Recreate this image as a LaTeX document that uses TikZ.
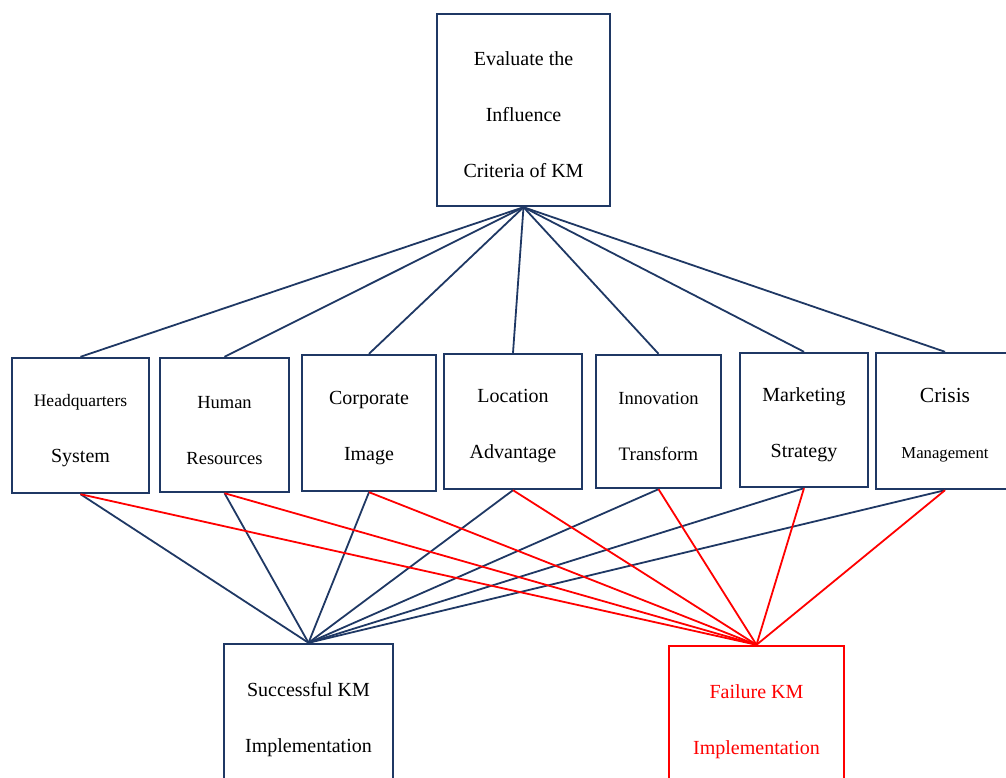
\documentclass[tikz,border=0pt]{standalone}
\usepackage{fontspec}
\setmainfont{Liberation Serif}
\usepackage{xcolor}
\usetikzlibrary{positioning}
\definecolor{kmblue}{RGB}{31,56,100}
\definecolor{kmred}{RGB}{255,0,0}
\newcommand{\kmstrut}{\rule{0pt}{23pt}}

\begin{document}
\begin{tikzpicture}[
    x=1pt, y=-1pt,
    every node/.style={font=\fontsize{20}{56}\selectfont},
    goal/.style={rectangle, minimum width=173pt, minimum height=192pt, inner sep=0pt,
                 align=center, draw=kmblue, line width=2.4pt},
    criterion/.style={rectangle, minimum height=135pt, inner sep=0pt,
                      align=center, draw=kmblue, line width=2.4pt},
    outcome/.style={rectangle, minimum height=142pt, inner sep=0pt,
                    align=center, draw=kmblue, line width=2.4pt},
    link/.style={kmblue, line width=1.8pt},
    faillink/.style={kmred, line width=1.8pt}
]
\useasboundingbox (0,0) rectangle (1006,778);
\clip (0,0) rectangle (1006,778);

% Goal
\node (evaluate) [goal] at (523.5,110) {\kmstrut Evaluate the\\Influence\\Criteria of KM};

% Criteria
\node (headquarters) [criterion, minimum width=137pt] at (80.5,425.5)
    {\kmstrut{\fontsize{17.5}{56}\selectfont Headquarters}\\System};
\node (human) [criterion, minimum width=129pt, minimum height=134pt] at (224.5,425)
    {\kmstrut{\fontsize{18.5}{56}\selectfont Human}\\{\fontsize{18.5}{56}\selectfont Resources}};
\node (corporate) [criterion, minimum width=134pt, minimum height=136pt] at (369,423)
    {\kmstrut Corporate\\Image};
\node (location) [criterion, minimum width=138pt] at (513,421.5) {\kmstrut Location\\Advantage};
\node (innovation) [criterion, minimum width=125pt, minimum height=133pt] at (658.5,421.5)
    {\kmstrut{\fontsize{18.5}{56}\selectfont Innovation}\\{\fontsize{19}{56}\selectfont Transform}};
\node (marketing) [criterion, minimum width=128pt, minimum height=134pt] at (804,420)
    {\kmstrut Marketing\\Strategy};
\node (crisis) [criterion, minimum width=138pt, minimum height=136pt] at (945,421)
    {\kmstrut{\fontsize{21.5}{56}\selectfont Crisis}\\{\fontsize{16.7}{56}\selectfont Management}};

% Outcomes
\node (success) [outcome, minimum width=169pt] at (308.5,715) {\kmstrut Successful KM\\Implementation};
\node (failure) [outcome, minimum width=175pt, draw=kmred, text=kmred] at (756.5,717)
    {\kmstrut Failure KM\\Implementation};

% Goal to criteria
\draw [link] (evaluate.south) -- (headquarters.north);
\draw [link] (evaluate.south) -- (human.north);
\draw [link] (evaluate.south) -- (corporate.north);
\draw [link] (evaluate.south) -- (location.north);
\draw [link] (evaluate.south) -- (innovation.north);
\draw [link] (evaluate.south) -- (marketing.north);
\draw [link] (evaluate.south) -- (crisis.north);

% Criteria to success
\draw [link] (headquarters.south) -- (success.north);
\draw [link] (human.south) -- (success.north);
\draw [link] (corporate.south) -- (success.north);
\draw [link] (location.south) -- (success.north);
\draw [link] (innovation.south) -- (success.north);
\draw [link] (marketing.south) -- (success.north);
\draw [link] (crisis.south) -- (success.north);

% Criteria to failure
\draw [faillink] (headquarters.south) -- (failure.north);
\draw [faillink] (human.south) -- (failure.north);
\draw [faillink] (corporate.south) -- (failure.north);
\draw [faillink] (location.south) -- (failure.north);
\draw [faillink] (innovation.south) -- (failure.north);
\draw [faillink] (marketing.south) -- (failure.north);
\draw [faillink] (crisis.south) -- (failure.north);

\end{tikzpicture}
\end{document}
